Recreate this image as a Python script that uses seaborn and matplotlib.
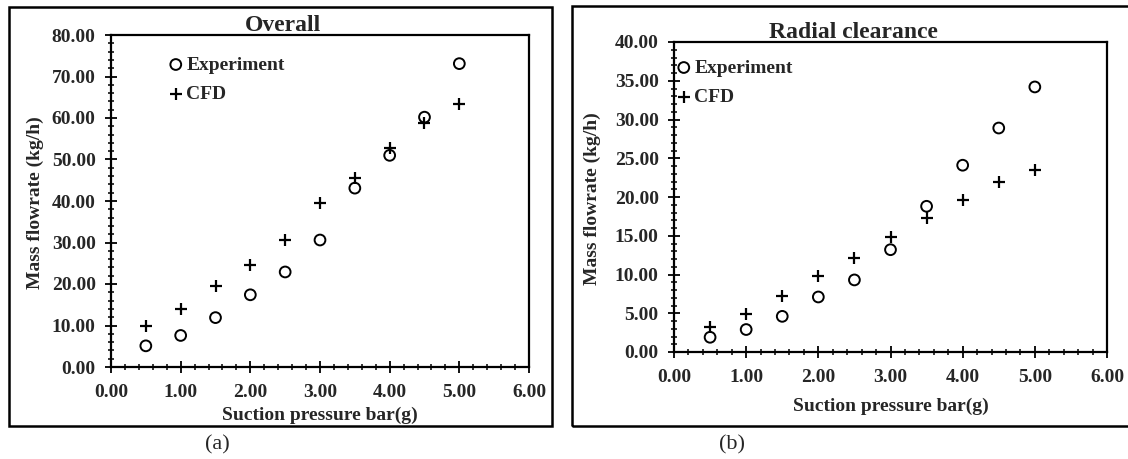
import numpy as np
import pandas as pd
import seaborn as sns
import matplotlib.pyplot as plt
from matplotlib.patches import Rectangle
from matplotlib.ticker import MultipleLocator, FormatStrFormatter

# ==================== DATA ====================

pressure = [0.5, 1.0, 1.5, 2.0, 2.5, 3.0, 3.5, 4.0, 4.5, 5.0]

overall_exp = [5.1, 7.6, 11.9, 17.4, 22.9, 30.6, 43.1, 51.0, 60.2, 73.1]
overall_cfd = [9.9, 13.9, 19.6, 24.5, 30.5, 39.5, 45.5, 52.8, 58.8, 63.4]

radial_exp = [1.9, 2.9, 4.6, 7.1, 9.3, 13.2, 18.8, 24.1, 28.9, 34.2]
radial_cfd = [3.2, 4.9, 7.2, 9.8, 12.1, 14.8, 17.3, 19.6, 21.9, 23.5]

titles = ["Overall", "Radial clearance"]
captions = ["(a)", "(b)"]
xlabel = "Suction pressure bar(g)"
ylabel = "Mass flowrate (kg/h)"

# ==================== STYLE ====================

sns.set_theme(style="white")
plt.rcParams['font.family'] = ['Liberation Serif', 'DejaVu Serif']
plt.rcParams['font.weight'] = 'bold'

W, H = 1128, 459
fig = plt.figure(figsize=(W / 100, H / 100), dpi=100)


def px_rect(x0, y0, x1, y1):
    # pixel box (top-left origin) -> figure fraction
    return [x0 / W, 1 - y1 / H, (x1 - x0) / W, (y1 - y0) / H]


def draw_panel(ax, exp, cfd, ymax, ymajor, yminor):
    df_exp = pd.DataFrame({"x": pressure, "y": exp})
    df_cfd = pd.DataFrame({"x": pressure, "y": cfd})
    sns.scatterplot(data=df_exp, x="x", y="y", ax=ax, marker="o", s=60,
                    facecolor="none", edgecolor="black", linewidth=1.4,
                    label="Experiment", zorder=3)
    sns.scatterplot(data=df_cfd, x="x", y="y", ax=ax, marker="+", s=80,
                    color="black", linewidth=1.6, label="CFD", zorder=3)
    ax.set_xlim(0, 6)
    ax.set_ylim(0, ymax)
    ax.xaxis.set_major_locator(MultipleLocator(1))
    ax.xaxis.set_minor_locator(MultipleLocator(0.2))
    ax.yaxis.set_major_locator(MultipleLocator(ymajor))
    ax.yaxis.set_minor_locator(MultipleLocator(yminor))
    ax.xaxis.set_major_formatter(FormatStrFormatter('%.2f'))
    ax.yaxis.set_major_formatter(FormatStrFormatter('%.2f'))
    ax.tick_params(which='major', direction='inout', length=8, width=1.3,
                   labelsize=14, left=True, bottom=True, color='black')
    ax.tick_params(which='minor', direction='inout', length=5, width=1.1,
                   left=True, bottom=True, color='black')
    ax.tick_params(axis='y', which='major', pad=7)
    ax.tick_params(axis='x', which='major', pad=8)
    for lab in ax.get_xticklabels() + ax.get_yticklabels():
        lab.set_fontweight('bold')
    for sp in ax.spines.values():
        sp.set_linewidth(1.6)
        sp.set_color('black')
    ax.set_xlabel(xlabel, fontsize=14, fontweight='bold')
    ax.set_ylabel(ylabel, fontsize=14, fontweight='bold')
    ax.xaxis.label.set_va('center')
    ax.yaxis.label.set_va('center')
    ax.set_facecolor('white')


def add_legend(ax, anchor):
    ax.legend(loc='upper left', bbox_to_anchor=anchor,
              frameon=False, handlelength=0.8, handletextpad=0.15,
              borderpad=0, borderaxespad=0, labelspacing=0.62,
              prop={'weight': 'bold', 'size': 14})


# ==================== PANEL (a) ====================

ax1 = fig.add_axes(px_rect(111, 35, 529, 367))
draw_panel(ax1, overall_exp, overall_cfd, 80, 10, 2)
ax1.xaxis.set_label_coords(0.5, (367 - 415) / 332)
ax1.yaxis.set_label_coords((35 - 111) / 418, (367 - 203) / 332)
add_legend(ax1, ((168 - 111) / 418, 1 - (56 - 35) / 332))

# ==================== PANEL (b) ====================

ax2 = fig.add_axes(px_rect(674, 42, 1107, 352))
draw_panel(ax2, radial_exp, radial_cfd, 40, 5, 1)
ax2.xaxis.set_label_coords(0.5, (352 - 406) / 310)
ax2.yaxis.set_label_coords((592 - 674) / 433, (352 - 199) / 310)
add_legend(ax2, ((676 - 674) / 433, 1 - (59 - 42) / 310))

# ==================== FRAMES / TITLES ====================

for (x0, y0, x1, y1) in [(9, 7, 552, 426), (572, 6, 1136, 426)]:
    r = px_rect(x0, y0, x1, y1)
    fig.patches.append(Rectangle((r[0], r[1]), r[2], r[3], transform=fig.transFigure,
                                 fill=False, edgecolor='black', linewidth=1.8, zorder=0))

fig.text(283 / W, 1 - 31 / H, titles[0], ha='center', va='baseline',
         fontsize=17, fontweight='bold')
fig.text(853 / W, 1 - 38 / H, titles[1], ha='center', va='baseline',
         fontsize=17, fontweight='bold')

fig.text(217 / W, 1 - 445 / H, captions[0], ha='center', va='center',
         fontsize=16, fontweight='normal')
fig.text(732 / W, 1 - 445 / H, captions[1], ha='center', va='center',
         fontsize=16, fontweight='normal')

plt.savefig("out.png", dpi=100)
plt.close()
